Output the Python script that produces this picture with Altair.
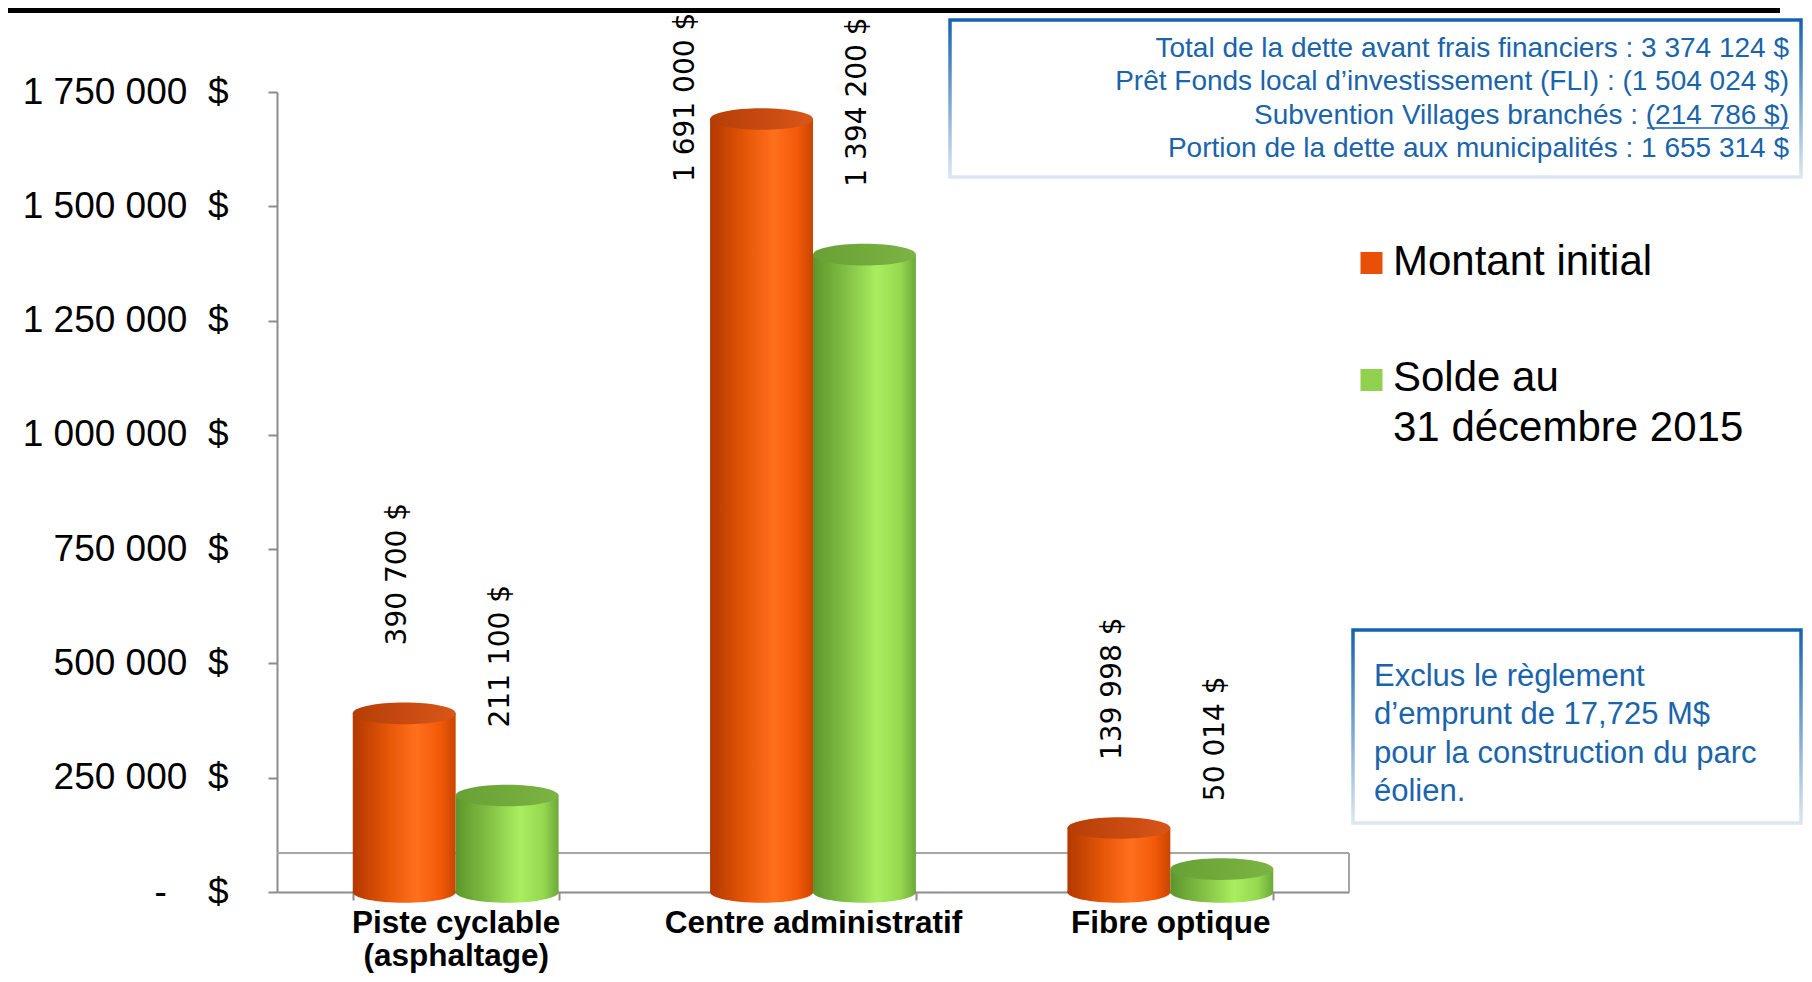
import altair as alt
import pandas as pd

# ---------------- data ----------------
categories = ["Piste cyclable\n(asphaltage)", "Centre administratif", "Fibre optique"]
series = ["Montant initial", "Solde au\n31 décembre 2015"]
initial_amounts = [390700, 1691000, 139998]
balance_2015 = [211100, 1394200, 50014]
y_ticks = [0, 250000, 500000, 750000, 1000000, 1250000, 1500000, 1750000]
summary_lines = [
    "Total de la dette avant frais financiers : 3 374 124 $",
    "Prêt Fonds local d’investissement (FLI) : (1 504 024 $)",
    "Subvention Villages branchés : (214 786 $)",
    "Portion de la dette aux municipalités : 1 655 314 $",
]
note_lines = [
    "Exclus le règlement",
    "d’emprunt de 17,725 M$",
    "pour la construction du parc",
    "éolien.",
]


def money(v):
    return f"{v:,}".replace(",", " ") + " $"


df = pd.DataFrame({
    "category": categories * 2,
    "series": [series[0]] * 3 + [series[1]] * 3,
    "value": initial_amounts + balance_2015,
})
df["label"] = [money(v) for v in df["value"]]
one = pd.DataFrame({"k": [0]})
leg = pd.DataFrame({"series": series})

# ---------------- styles ----------------
FONT = "Liberation Sans, Arial, sans-serif"
GRAY = "#8c8c8c"
BLUE = "#1a64ab"
orange_grad = {"gradient": "linear", "x1": 0, "y1": 0, "x2": 1, "y2": 0,
               "stops": [{"offset": 0, "color": "#b33800"},
                         {"offset": 0.35, "color": "#e65708"},
                         {"offset": 0.62, "color": "#ff6f1c"},
                         {"offset": 0.85, "color": "#f25a08"},
                         {"offset": 1, "color": "#c94500"}]}
green_grad = {"gradient": "linear", "x1": 0, "y1": 0, "x2": 1, "y2": 0,
              "stops": [{"offset": 0, "color": "#5c962c"},
                        {"offset": 0.35, "color": "#86c447"},
                        {"offset": 0.62, "color": "#a9ee5f"},
                        {"offset": 0.85, "color": "#95d94f"},
                        {"offset": 1, "color": "#6ca83a"}]}
orange_top = {"gradient": "linear", "x1": 0, "y1": 0, "x2": 1, "y2": 0,
              "stops": [{"offset": 0, "color": "#b53e06"}, {"offset": 1, "color": "#d9561a"}]}
green_top = {"gradient": "linear", "x1": 0, "y1": 0, "x2": 1, "y2": 0,
             "stops": [{"offset": 0, "color": "#67a034"}, {"offset": 1, "color": "#7cb444"}]}
box_stroke = {"gradient": "linear", "x1": 0, "y1": 0, "x2": 0, "y2": 1,
              "stops": [{"offset": 0, "color": "#1563b0"}, {"offset": 1, "color": "#dde6f3"}]}
ELLIPSE = "M -1 0 A 1 0.21 0 1 0 1 0 A 1 0.21 0 1 0 -1 0 Z"

W, H = 1072, 800

nb = "\u00a0"
y_label_expr = (
    f"datum.value == 0 ? '-{nb*4}$' : "
    f"replace(format(datum.value, ','), regexp(',', 'g'), ' ') + '{nb*2}$'"
)

x_enc = alt.X(
    "category:N",
    scale=alt.Scale(domain=categories, paddingInner=0.424, paddingOuter=0.212),
    axis=alt.Axis(title=None, labelExpr="split(datum.label, '\\n')", labelFont=FONT,
                  labelFontSize=31.5, labelFontWeight="bold", labelColor="black",
                  labelAngle=0, labelPadding=7, labelBaseline="top", labelLineHeight=33,
                  labelLimit=0,
                  tickBand="extent", tickSize=8, tickColor=GRAY, tickWidth=2,
                  domainColor=GRAY, domainWidth=2, grid=False),
)
xo_enc = alt.XOffset("series:N", scale=alt.Scale(domain=series, paddingInner=0, paddingOuter=0))
y_enc = alt.Y(
    "value:Q",
    scale=alt.Scale(domain=[0, 1750000], nice=False),
    axis=alt.Axis(title=None, values=y_ticks, labelExpr=y_label_expr, labelFont=FONT,
                  labelFontSize=37, labelColor="black", labelPadding=40, labelLimit=0,
                  tickSize=9, tickColor=GRAY, tickWidth=2, domainColor=GRAY,
                  domainWidth=2, grid=False),
)

base = alt.Chart(df)

# 3D floor edges (decoration)
floor_h = alt.Chart(one).mark_rule(color="#a6a6a6", strokeWidth=2).encode(
    x=alt.value(0), x2=alt.value(W), y=alt.value(761))
floor_v = alt.Chart(one).mark_rule(color="#a6a6a6", strokeWidth=2).encode(
    x=alt.value(W), y=alt.value(761), y2=alt.value(H))

layers = [floor_h, floor_v]
for s, grad, top in [(series[0], orange_grad, orange_top), (series[1], green_grad, green_top)]:
    sub = base.transform_filter(alt.datum.series == s)
    bottom = sub.mark_point(shape=ELLIPSE, size=10609, filled=True, fill=grad,
                            opacity=1, strokeWidth=0).encode(x=x_enc, xOffset=xo_enc, y=alt.datum(0))
    body = sub.mark_bar(fill=grad, strokeWidth=0).encode(x=x_enc, xOffset=xo_enc, y=y_enc)
    cap = sub.mark_point(shape=ELLIPSE, size=10609, filled=True, fill=top,
                         opacity=1, strokeWidth=0).encode(x=x_enc, xOffset=xo_enc, y=y_enc)
    layers += [bottom, body, cap]

labels = base.transform_joinaggregate(vmax="max(value)").transform_filter(
    "datum.value < datum.vmax").mark_text(
    angle=270, align="left", baseline="middle", dx=68, dy=-6,
    font="DejaVu Sans", fontSize=28, color="black").encode(
    x=x_enc, xOffset=xo_enc, y=y_enc, text="label:N")
label_max = base.transform_joinaggregate(vmax="max(value)").transform_filter(
    "datum.value == datum.vmax").mark_text(
    angle=270, align="left", baseline="middle", dx=-63, dy=-76,
    font="DejaVu Sans", fontSize=28, color="black").encode(
    x=x_enc, xOffset=xo_enc, y=y_enc, text="label:N")
layers += [labels, label_max]

# legend
leg_colors = ["#e8500a", "#92d050"]
leg_y_sq = [171, 288]
leg_y_tx = [170, 286]
for i, s in enumerate(series):
    sub = alt.Chart(leg).transform_filter(alt.datum.series == s)
    layers.append(sub.mark_square(size=484, filled=True, color=leg_colors[i], opacity=1).encode(
        x=alt.value(1094.5), y=alt.value(leg_y_sq[i])))
    layers.append(sub.mark_text(align="left", baseline="middle", font=FONT, fontSize=42,
                                lineHeight=50, lineBreak="\n", color="black").encode(
        x=alt.value(1116), y=alt.value(leg_y_tx[i]), text="series:N"))

# top black rule
layers.append(alt.Chart(one).mark_rule(color="black", strokeWidth=5).encode(
    x=alt.value(-269), x2=alt.value(1503), y=alt.value(-81.5)))

# summary box
layers.append(alt.Chart(one).mark_rect(fill="white", stroke=box_stroke, strokeWidth=3.5).encode(
    x=alt.value(673), x2=alt.value(1524), y=alt.value(-72), y2=alt.value(85)))
layers.append(alt.Chart(one).mark_text(align="right", baseline="middle", font=FONT, fontSize=28,
                                       lineHeight=33.5, color=BLUE).encode(
    x=alt.value(1512), y=alt.value(-43.5), text=alt.value(summary_lines)))
layers.append(alt.Chart(one).mark_rule(color=BLUE, strokeWidth=1.5).encode(
    x=alt.value(1370), x2=alt.value(1512), y=alt.value(36)))

# note box
layers.append(alt.Chart(one).mark_rect(fill="white", stroke=box_stroke, strokeWidth=3.5).encode(
    x=alt.value(1076), x2=alt.value(1524), y=alt.value(538), y2=alt.value(731)))
layers.append(alt.Chart(one).mark_text(align="left", baseline="middle", font=FONT, fontSize=31,
                                       lineHeight=38.3, color=BLUE).encode(
    x=alt.value(1097), y=alt.value(585), text=alt.value(note_lines)))

chart = alt.layer(*layers).properties(
    width=W, height=H,
    autosize=alt.AutoSizeParams(type="none"),
    padding={"left": 269, "top": 84, "right": 455, "bottom": 82},
    background="white",
).configure_view(strokeWidth=0)

chart.save("out.html", embed_options={"renderer": "svg", "actions": False})
